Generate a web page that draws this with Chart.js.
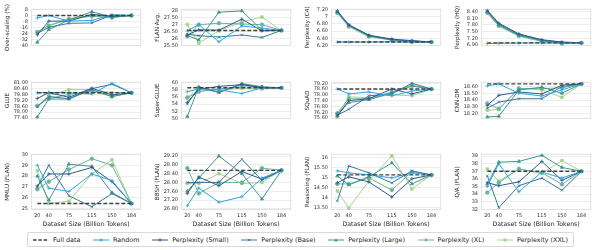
<!DOCTYPE html>
<html>
<head>
<meta charset="utf-8">
<script src="https://cdn.jsdelivr.net/npm/chart.js@4.4.0/dist/chart.umd.min.js"></script>
<style>
  body { margin: 0; background: #fff; width: 598px; height: 250px; overflow: hidden; position: relative; font-family: "DejaVu Sans", sans-serif; }
  canvas { position: absolute; }
  #legend { position: absolute; left: 27px; top: 232px; width: 547px; height: 15px; border: 1px solid #d9d9d9; border-radius: 2px;
            display: flex; align-items: center; justify-content: space-between; padding: 0 5px; box-sizing: border-box;
            font-size: 6.4px; color: #262626; }
  #legend span.item { display: flex; align-items: center; white-space: nowrap; }
  #legend svg { margin-right: 4px; }
</style>
</head>
<body>
<div id="legend"></div>
<script>
// x values shared by every panel
var xValues = [20, 40, 75, 115, 150, 184];
var seriesNames = ["Full data", "Random", "Perplexity (Small)", "Perplexity (Base)", "Perplexity (Large)", "Perplexity (XL)", "Perplexity (XXL)"];
var seriesColors = ["#404040", "#2ea4e3", "#2b5a8c", "#36789d", "#3f9690", "#6cb59a", "#a6d28f"];
var seriesPoints = [false, "cross", "cross", "crossRot", "triangle", "circle", "rect"];

// order of rows in each panel: full, random, small, base, large, xl, xxl
var overScaling = [
  [0, 0, 0, 0, 0, 0],
  [-3.3, 0, -7.6, -6.6, 1, 0],
  [-26, -7.6, -7.5, 1.5, -1, 0],
  [-24, -16, -10.5, -10, 0.5, 0],
  [-36, -19, -6, 5, -2, 0],
  [-22, -14, -5, -1, -3, 0],
  [-23, -13, -4, 0, -2, 0]
];
var flanAvg = [
  [26.58, 26.58, 26.58, 26.58, 26.58, 26.58],
  [26.55, 27.0, 25.75, 26.9, 26.75, 26.58],
  [26.25, 26.62, 26.6, 27.4, 26.55, 26.58],
  [26.3, 26.2, 26.1, 26.25, 26.07, 26.58],
  [26.2, 25.9, 27.9, 28.0, 26.6, 26.58],
  [26.15, 27.0, 27.1, 27.05, 27.0, 26.58],
  [27.0, 25.65, 26.55, 27.2, 27.55, 26.58]
];
var pplC4 = [
  [6.30, 6.30, 6.30, 6.30, 6.30, 6.30],
  [6.30, 6.30, 6.30, 6.31, 6.29, 6.30],
  [7.16, 6.78, 6.49, 6.38, 6.34, 6.30],
  [7.14, 6.77, 6.48, 6.37, 6.33, 6.30],
  [7.13, 6.76, 6.47, 6.36, 6.32, 6.30],
  [7.11, 6.74, 6.46, 6.36, 6.31, 6.30],
  [7.10, 6.72, 6.44, 6.35, 6.30, 6.30]
];
var pplHQ = [
  [7.00, 7.00, 7.00, 7.00, 7.00, 7.00],
  [6.97, 6.98, 6.99, 7.00, 6.99, 7.00],
  [8.45, 7.88, 7.40, 7.14, 7.04, 7.00],
  [8.42, 7.84, 7.37, 7.12, 7.02, 7.00],
  [8.38, 7.80, 7.34, 7.10, 7.00, 7.00],
  [8.35, 7.77, 7.32, 7.08, 6.98, 7.00],
  [8.32, 7.74, 7.29, 7.06, 6.96, 7.00]
];
var glue = [
  [79.98, 79.98, 79.98, 79.98, 79.98, 79.98],
  [80.0, 80.0, 79.98, 79.86, 80.95, 79.98],
  [79.4, 80.0, 79.52, 80.45, 79.76, 79.98],
  [78.55, 79.6, 79.37, 80.4, 80.85, 79.98],
  [77.5, 79.35, 79.33, 80.3, 79.6, 79.98],
  [78.65, 79.4, 79.8, 80.15, 79.6, 79.98],
  [78.6, 79.7, 80.3, 80.3, 79.98, 79.98]
];
var superGlue = [
  [58.6, 58.6, 58.6, 58.6, 58.6, 58.6],
  [57.5, 58.3, 58.0, 57.0, 58.6, 58.6],
  [54.5, 58.2, 59.0, 59.5, 58.7, 58.6],
  [54.0, 58.7, 57.3, 59.6, 58.5, 58.6],
  [50.5, 58.9, 57.3, 59.8, 58.9, 58.6],
  [55.8, 57.5, 58.3, 58.9, 58.8, 58.6],
  [56.0, 57.9, 58.0, 58.5, 58.3, 58.6]
];
var squad = [
  [78.6, 78.6, 78.6, 78.6, 78.6, 78.6],
  [78.6, 78.1, 78.3, 77.9, 78.4, 78.6],
  [75.8, 77.4, 77.6, 78.6, 78.1, 78.6],
  [75.9, 76.5, 77.9, 78.1, 79.2, 78.6],
  [76.0, 77.2, 77.5, 78.2, 78.9, 78.6],
  [76.1, 77.6, 77.6, 78.3, 79.0, 78.6],
  [75.7, 77.8, 77.7, 78.0, 77.9, 78.6]
];
var cnnDm = [
  [18.64, 18.64, 18.64, 18.64, 18.64, 18.64],
  [18.61, 18.64, 18.50, 18.46, 18.55, 18.64],
  [18.32, 18.47, 18.52, 18.49, 18.62, 18.64],
  [18.28, 18.37, 18.42, 18.42, 18.60, 18.64],
  [18.15, 18.16, 18.55, 18.59, 18.50, 18.64],
  [18.35, 18.27, 18.57, 18.57, 18.58, 18.64],
  [18.25, 18.26, 18.57, 18.55, 18.44, 18.64]
];
var mmlu = [
  [25.5, 25.5, 25.5, 25.5, 25.5, 25.5],
  [29.0, 26.9, 26.6, 28.2, 27.6, 25.5],
  [27.1, 28.2, 28.2, 28.8, 27.5, 25.5],
  [27.0, 29.0, 26.2, 25.2, 26.4, 25.5],
  [28.0, 25.8, 29.1, 28.9, 26.5, 25.5],
  [26.8, 27.5, 28.6, 29.6, 29.0, 25.5],
  [28.5, 25.5, 25.7, 28.2, 29.5, 25.5]
];
var bbh = [
  [28.55, 28.55, 28.55, 28.55, 28.55, 28.55],
  [26.95, 27.75, 27.1, 27.35, 28.2, 28.55],
  [27.5, 28.25, 27.85, 28.5, 28.15, 28.55],
  [28.0, 28.0, 28.0, 29.05, 28.1, 28.55],
  [27.6, 28.2, 29.2, 28.4, 27.25, 28.55],
  [28.65, 27.5, 28.0, 28.0, 28.65, 28.55],
  [27.95, 27.95, 28.4, 27.95, 28.0, 28.55]
];
var reasoning = [
  [15.15, 15.15, 15.15, 15.15, 15.15, 15.15],
  [15.35, 15.25, 15.15, 15.0, 15.25, 15.15],
  [14.75, 15.05, 14.8, 14.05, 14.95, 15.15],
  [13.85, 15.6, 15.25, 14.75, 15.35, 15.15],
  [15.1, 14.65, 15.05, 15.75, 14.7, 15.15],
  [14.7, 14.7, 15.0, 14.4, 15.3, 15.15],
  [14.35, 13.5, 14.85, 16.1, 14.45, 15.15]
];
var qa = [
  [37.0, 37.0, 37.0, 37.0, 37.0, 37.0],
  [35.0, 38.0, 34.3, 36.9, 36.1, 37.0],
  [35.5, 35.1, 35.6, 38.3, 35.8, 37.0],
  [36.4, 32.2, 35.1, 36.1, 34.5, 37.0],
  [35.3, 38.2, 38.3, 39.1, 37.5, 37.0],
  [34.2, 35.5, 37.3, 36.8, 35.3, 37.0],
  [37.3, 35.7, 37.3, 36.7, 38.4, 37.0]
];

// tick labels, bottom to top
var overScalingTicks = ["-40", "-32", "-24", "-16", "-8", "0", "8"];
var flanAvgTicks = ["25.50", "26", "26.50", "27", "27.50", "28"];
var pplC4Ticks = ["6.20", "6.40", "6.60", "6.80", "7", "7.20"];
var pplHQTicks = ["6.90", "7.20", "7.50", "7.80", "8.10", "8.40"];
var glueTicks = ["77.40", "78.00", "78.60", "79.20", "79.80", "80.40", "81.00"];
var superGlueTicks = ["50", "52", "54", "56", "58", "60"];
var squadTicks = ["75.60", "76.20", "76.80", "77.40", "78.00", "78.60", "79.20"];
var cnnDmTicks = ["18.20", "18.30", "18.40", "18.50", "18.60"];
var mmluTicks = ["25", "26", "27", "28", "29", "30"];
var bbhTicks = ["26.80", "27.20", "27.60", "28.00", "28.40", "28.80", "29.20"];
var reasoningTicks = ["13.50", "14", "14.50", "15", "15.50", "16"];
var qaTicks = ["32", "33", "34", "35", "36", "37", "38", "39"];

var panels = [
  { title: "Over-scaling (%)", data: overScaling, ticks: overScalingTicks, min: -41, max: 9 },
  { title: "FLAN Avg.", data: flanAvg, ticks: flanAvgTicks, min: 25.45, max: 28.15 },
  { title: "Perplexity (C4)", data: pplC4, ticks: pplC4Ticks, min: 6.19, max: 7.22 },
  { title: "Perplexity (HQ)", data: pplHQ, ticks: pplHQTicks, min: 6.86, max: 8.52 },
  { title: "GLUE", data: glue, ticks: glueTicks, min: 77.3, max: 81.1 },
  { title: "Super-GLUE", data: superGlue, ticks: superGlueTicks, min: 49.8, max: 60.3 },
  { title: "SQuAD", data: squad, ticks: squadTicks, min: 75.5, max: 79.35 },
  { title: "CNN-DM", data: cnnDm, ticks: cnnDmTicks, min: 18.12, max: 18.67 },
  { title: "MMLU (FLAN)", data: mmlu, ticks: mmluTicks, min: 24.9, max: 30.05 },
  { title: "BBSH (FLAN)", data: bbh, ticks: bbhTicks, min: 26.75, max: 29.3 },
  { title: "Reasoning (FLAN)", data: reasoning, ticks: reasoningTicks, min: 13.4, max: 16.2 },
  { title: "Q/A (FLAN)", data: qa, ticks: qaTicks, min: 31.9, max: 39.3 }
];

var FONT = "DejaVu Sans";
var rowTops = [4, 77, 149];
var plotH = 61, axisW = 31, plotW = 115, xAxisH = 19;

var framePlugin = {
  id: "frame",
  beforeDatasetsDraw: function (chart) {
    var a = chart.chartArea, c = chart.ctx;
    c.save();
    c.strokeStyle = "#e2e2e2";
    c.lineWidth = 1;
    c.strokeRect(a.left + 0.5, a.top + 0.5, a.right - a.left - 1, a.bottom - a.top - 1);
    c.restore();
  }
};

panels.forEach(function (p, k) {
  var row = Math.floor(k / 4), col = k % 4;
  var bottom = row === 2;
  var cv = document.createElement("canvas");
  var w = axisW + plotW, h = plotH + (bottom ? xAxisH : 0);
  cv.width = w; cv.height = h;
  cv.style.left = (150 * col) + "px";
  cv.style.top = rowTops[row] + "px";
  cv.style.width = w + "px"; cv.style.height = h + "px";
  document.body.appendChild(cv);

  var tickVals = p.ticks.map(function (t) { return parseFloat(t); });
  var datasets = p.data.map(function (vals, i) {
    var full = i === 0;
    return {
      label: seriesNames[i],
      data: vals.map(function (v, j) { return { x: xValues[j], y: v }; }),
      borderColor: seriesColors[i],
      backgroundColor: seriesColors[i],
      borderWidth: full ? 1.4 : 1,
      borderDash: full ? [4, 2] : [],
      pointStyle: seriesPoints[i],
      pointRadius: full ? 0 : 1.8,
      pointBorderWidth: 0.8,
      tension: 0
    };
  });

  new Chart(cv, {
    type: "line",
    data: { datasets: datasets },
    plugins: [framePlugin],
    options: {
      responsive: false,
      animation: false,
      devicePixelRatio: 1,
      layout: { padding: 0 },
      plugins: { legend: { display: false }, tooltip: { enabled: false } },
      scales: {
        x: {
          type: "linear", min: 9, max: 201, display: bottom,
          afterBuildTicks: function (s) { s.ticks = xValues.map(function (v) { return { value: v }; }); },
          afterFit: function (s) { s.height = xAxisH; s.paddingLeft = 0; s.paddingRight = 0; },
          ticks: { font: { family: FONT, size: 5 }, color: "#333", padding: 3, maxRotation: 0, autoSkip: false,
                   callback: function (v) { return String(v); } },
          grid: { display: false, drawTicks: false },
          border: { display: false },
          title: { display: true, text: "Dataset Size (Billion Tokens)", color: "#262626",
                   font: { family: FONT, size: 6.2 }, padding: { top: 1, bottom: 1 } }
        },
        y: {
          min: p.min, max: p.max,
          afterBuildTicks: function (s) { s.ticks = tickVals.map(function (v) { return { value: v }; }); },
          afterFit: function (s) { s.width = axisW; s.paddingTop = 0; s.paddingBottom = 0; },
          ticks: { font: { family: FONT, size: 5 }, color: "#333", padding: 3, autoSkip: false,
                   callback: function (v, idx) { return p.ticks[idx]; } },
          grid: { color: "#e8e8e8", lineWidth: 0.8, drawTicks: false },
          border: { display: false },
          title: { display: true, text: p.title, color: "#262626", font: { family: FONT, size: 5.7 },
                   padding: { top: 4, bottom: 0 } }
        }
      }
    }
  });
});

// legend
function markerSvg(i) {
  var c = seriesColors[i], s = seriesPoints[i];
  var line = i === 0
    ? '<line x1="0" y1="3" x2="16" y2="3" stroke="' + c + '" stroke-width="1.4" stroke-dasharray="3.5,1.8"/>'
    : '<line x1="0" y1="3" x2="16" y2="3" stroke="' + c + '" stroke-width="1"/>';
  var m = "";
  if (s === "cross") m = '<path d="M8 1.2V4.8M6.2 3H9.8" stroke="' + c + '" stroke-width="0.8"/>';
  if (s === "crossRot") m = '<path d="M6.7 1.7L9.3 4.3M6.7 4.3L9.3 1.7" stroke="' + c + '" stroke-width="0.8"/>';
  if (s === "triangle") m = '<polygon points="8,1.2 9.8,4.4 6.2,4.4" fill="' + c + '"/>';
  if (s === "circle") m = '<circle cx="8" cy="3" r="1.4" fill="' + c + '"/>';
  if (s === "rect") m = '<rect x="6.5" y="1.5" width="3" height="3" fill="' + c + '"/>';
  return '<svg width="16" height="6">' + line + m + '</svg>';
}
var lg = document.getElementById("legend");
seriesNames.forEach(function (n, i) {
  var sp = document.createElement("span");
  sp.className = "item";
  sp.innerHTML = markerSvg(i) + n;
  lg.appendChild(sp);
});
</script>
</body>
</html>
